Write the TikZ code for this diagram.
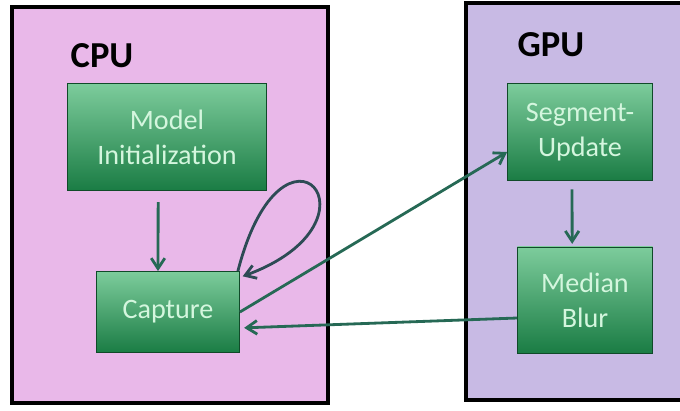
\documentclass[tikz,border=0pt]{standalone}
\usepackage{fontspec}
\setmainfont{Carlito}
\usepackage{tikz}
\usetikzlibrary{positioning}
\usetikzlibrary{arrows.meta}
\usepackage{xcolor}

\definecolor{cpupink}{RGB}{233,184,233}
\definecolor{gpulilac}{RGB}{200,186,228}
\definecolor{boxtop}{RGB}{125,204,156}
\definecolor{boxbot}{RGB}{26,124,68}
\definecolor{boxtext}{RGB}{212,246,222}
\definecolor{flowcol}{RGB}{38,105,85}
\definecolor{loopcol}{RGB}{45,75,85}

\begin{document}
\begin{tikzpicture}[x=0.025cm, y=-0.025cm,
  stage/.style={rectangle, draw=boxbot!60!black, thin, top color=boxtop, bottom color=boxbot,
    text=boxtext, align=center, font=\fontsize{20}{25}\selectfont, inner sep=0pt},
  flow/.style={draw=flowcol, line width=2pt, -{Straight Barb[length=2.6mm,width=3.4mm]}},
  unit/.style={draw=black, line width=3.5pt}]

\useasboundingbox (0,0) rectangle (680,410);
\clip (0,0) rectangle (680,410);
\fill[white] (0,0) rectangle (680,410);

% CPU side
\begin{scope}
{
\filldraw[unit, fill=cpupink] (12,7) rectangle (328,403);

\node[font=\fontsize{26}{30}\selectfont\bfseries] (cpu) at (102,56) {CPU};

\node[stage, minimum width=4.98cm, minimum height=2.68cm] (init) at (167,137)
{Model\\Initialization};

\node[stage, minimum width=3.58cm, minimum height=2.03cm] (cap) at (168,312)
{Capture};
}
\end{scope}

% GPU side
\begin{scope}
{
\filldraw[unit, fill=gpulilac] (466,3) rectangle (720,400);

\node[font=\fontsize{26}{30}\selectfont\bfseries] (gpu) at (551,45) {GPU};

\node[stage, minimum width=3.63cm, minimum height=2.43cm] (seg) at (580,132)
{Segment-\\Update};

\node[stage, minimum width=3.38cm, minimum height=2.65cm] (med) at (585,300)
{Median\\Blur};
}
\end{scope}

% connectors
\draw[flow, shorten <=8pt] ([xshift=-0.22cm]init.south) -- ([xshift=-0.25cm]cap.north);
\draw[flow, shorten <=6pt, shorten >=2pt] ([xshift=-0.2cm]seg.south) -- ([xshift=-0.32cm]med.north);
\draw[flow] (cap.east) -- ([yshift=-0.5cm]seg.west);
\draw[flow, shorten >=3pt] ([yshift=-0.45cm]med.west) -- ([yshift=-0.4cm]cap.east);
\draw[flow, draw=loopcol] ([xshift=-0.05cm]cap.north east) .. controls +(45,-175) and +(150,-55) .. ([xshift=0.07cm, yshift=-0.13cm]cap.north east);

\end{tikzpicture}
\end{document}
